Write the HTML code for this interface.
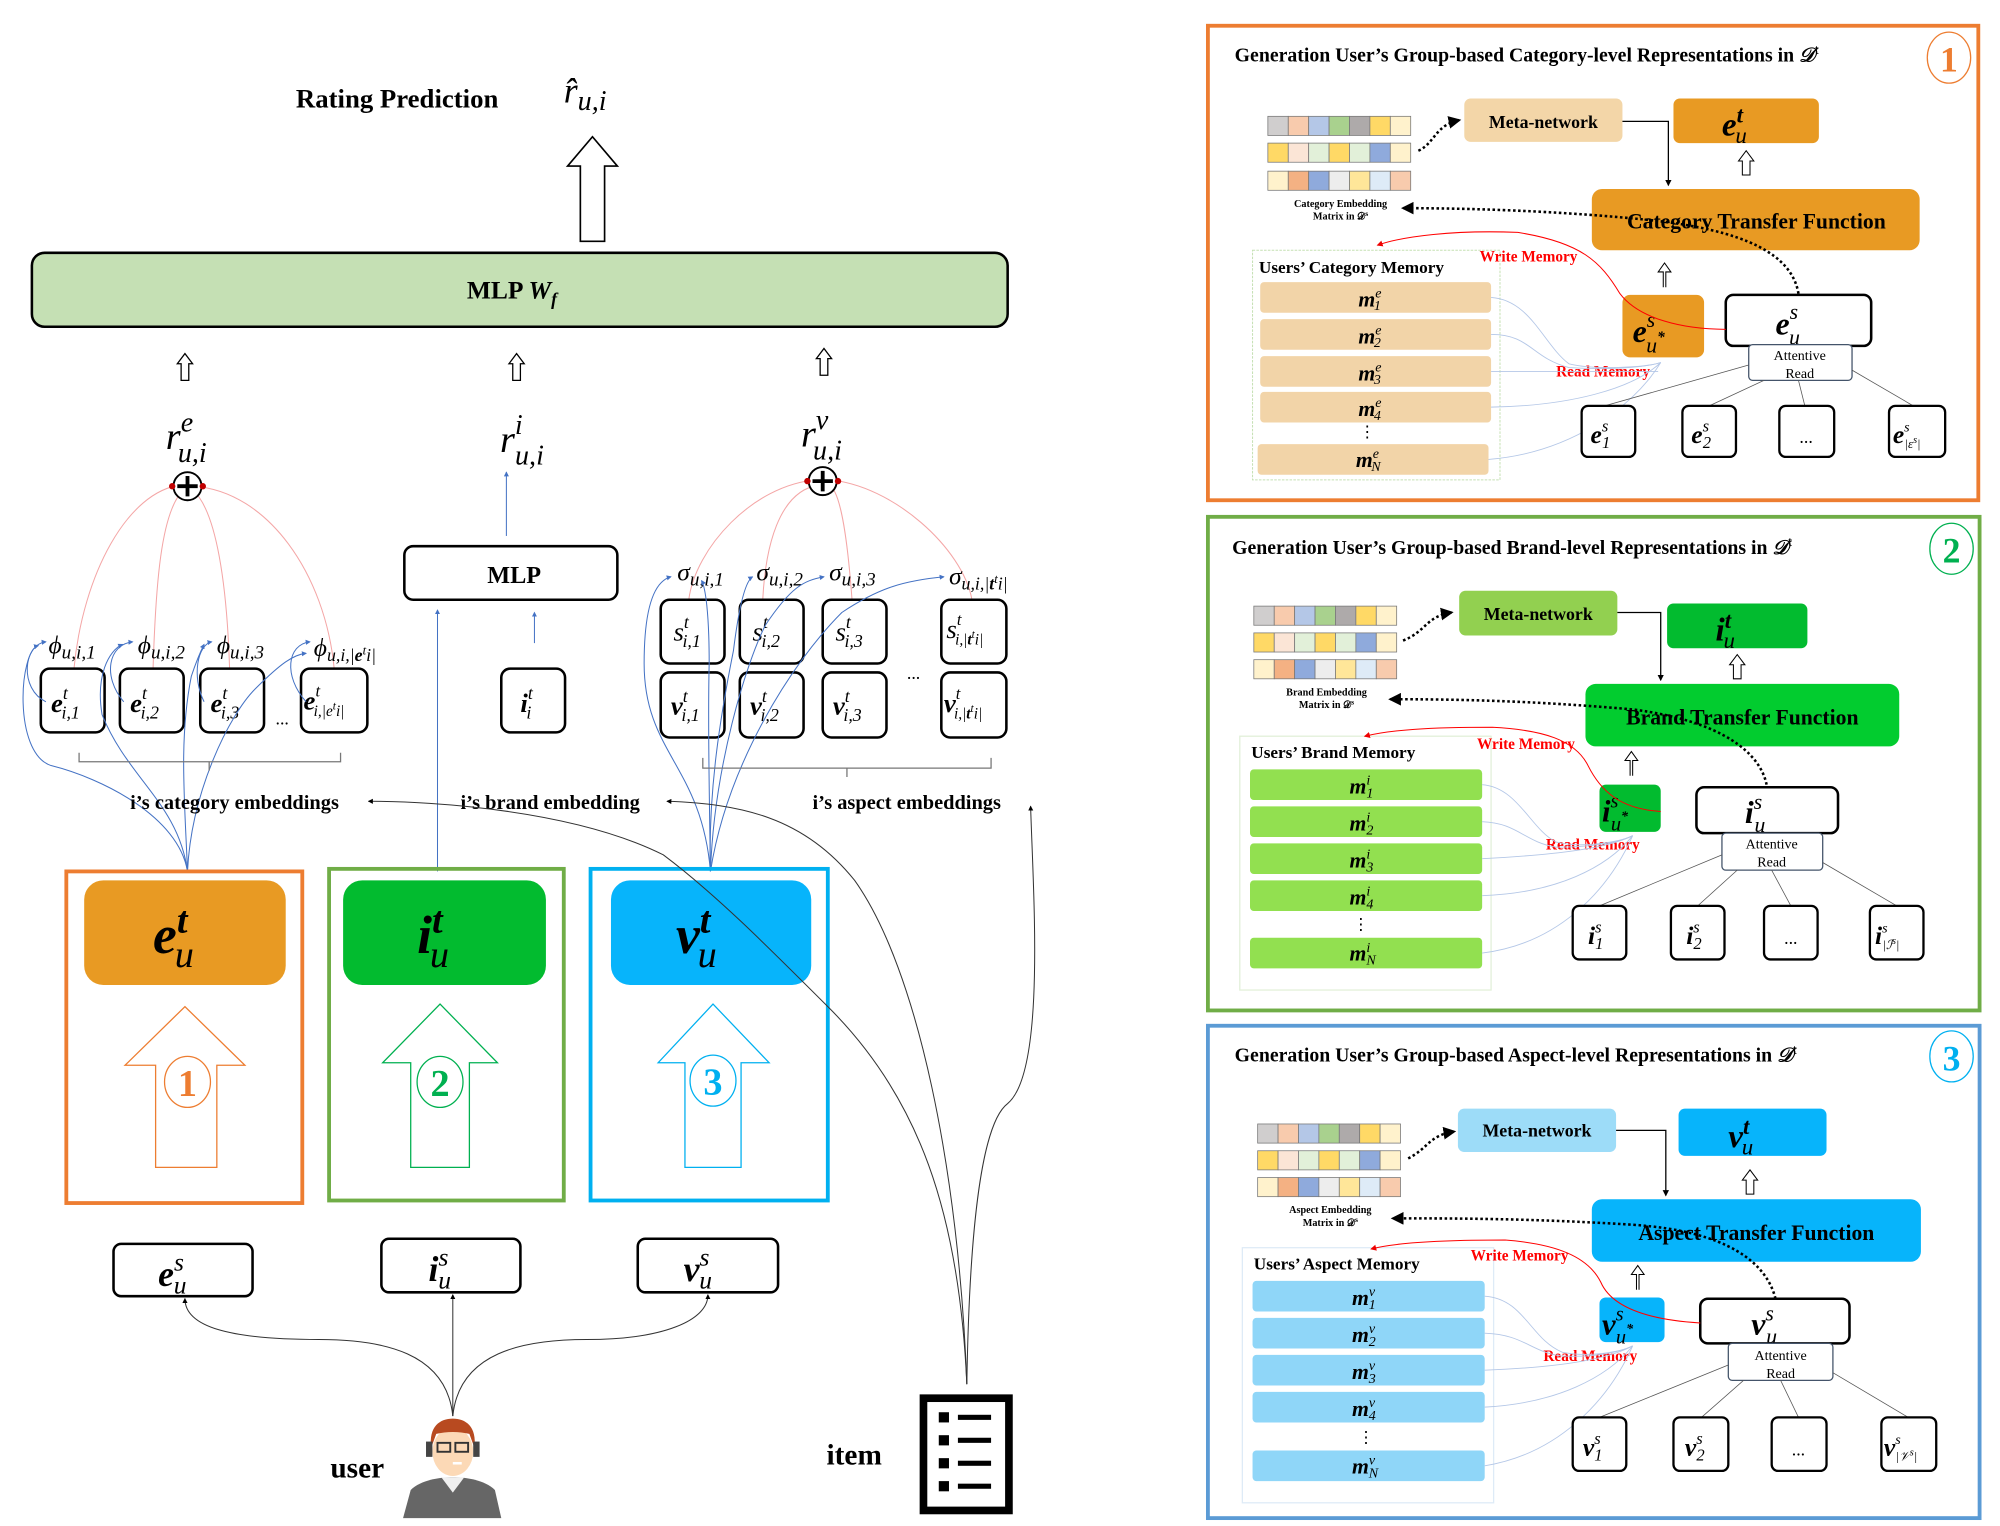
<!DOCTYPE html>
<html><head><meta charset="utf-8"><style>
html,body{margin:0;padding:0;background:#fff}
svg{display:block}
text{font-family:"Liberation Serif",serif}
.b{font-weight:bold}
.m{font-style:italic;font-weight:bold}
.mi{font-style:italic}
</style></head><body>
<svg width="2000" height="1526" viewBox="0 0 1568 1196" xmlns="http://www.w3.org/2000/svg">
<defs>
<marker id="ab" viewBox="0 0 6 6" refX="5" refY="3" markerWidth="5" markerHeight="5" orient="auto"><path d="M0,0L6,3L0,6z" fill="#4472c4"/></marker>
<marker id="ak" viewBox="0 0 6 6" refX="5" refY="3" markerWidth="5" markerHeight="5" orient="auto"><path d="M0,0L6,3L0,6z" fill="#000"/></marker>
<marker id="ar" viewBox="0 0 6 6" refX="5" refY="3" markerWidth="6" markerHeight="6" orient="auto"><path d="M0,0L6,3L0,6z" fill="#e00"/></marker>
</defs>

<!-- top -->
<text x="232" y="84" class="b" font-size="21">Rating Prediction</text>
<text x="442" y="80" class="mi" font-size="28">r̂<tspan font-size="22" dy="6">u,i</tspan></text>
<path d="M455,189V130H445L464.5,107L484,130H474V189Z" fill="#fff" stroke="#000" stroke-width="1.3"/>
<rect x="25" y="198" width="765" height="58" rx="10" fill="#c5e0b4" stroke="#000" stroke-width="2"/>
<text x="366" y="234" class="b" font-size="20">MLP <tspan class="m">W<tspan font-size="14" dy="5">f</tspan></tspan></text>

<g fill="#fff" stroke="#000" stroke-width="1">
<path d="M142,298V285H139L145,277L151,285H148V298Z"/>
<path d="M402,298V285H399L405,277L411,285H408V298Z"/>
<path d="M643,294V281H640L646,273L652,281H649V294Z"/>
</g>

<text x="130" y="352" class="mi" font-size="30">r<tspan font-size="22" dy="-14">e</tspan><tspan font-size="22" dx="-12" dy="24">u,i</tspan></text>
<text x="392" y="354" class="mi" font-size="30">r<tspan font-size="22" dy="-14">i</tspan><tspan font-size="22" dx="-6" dy="24">u,i</tspan></text>
<text x="628" y="350" class="mi" font-size="30">r<tspan font-size="22" dy="-14">v</tspan><tspan font-size="22" dx="-12" dy="24">u,i</tspan></text>

<g stroke="#f4a6a6" stroke-width="0.8" fill="none">
<path d="M58,524C65,450 100,385 142,380"/>
<path d="M120,524C122,460 126,400 144,384"/>
<path d="M180,524C178,460 170,400 151,384"/>
<path d="M262,524C255,450 210,385 152,381"/>
<path d="M540,470C545,430 590,380 640,376"/>
<path d="M598,470C600,430 610,385 642,380"/>
<path d="M668,470C665,430 660,385 650,380"/>
<path d="M762,470C755,430 700,380 650,376"/>
</g>
<g fill="#fff" stroke="#000" stroke-width="1.5">
<circle cx="147" cy="381" r="11"/><circle cx="645" cy="377" r="11"/></g>
<g stroke="#000" stroke-width="3"><path d="M139,381H155M147,373V389M637,377H653M645,369V385"/></g>
<g fill="#c00000"><circle cx="135" cy="381" r="2.5"/><circle cx="159" cy="381" r="2.5"/><circle cx="633" cy="377" r="2.5"/><circle cx="657" cy="377" r="2.5"/></g>

<!-- left item boxes -->
<g fill="#fff" stroke="#000" stroke-width="2">
<rect x="32" y="524" width="50" height="50" rx="7"/><rect x="94" y="524" width="50" height="50" rx="7"/>
<rect x="157" y="524" width="50" height="50" rx="7"/><rect x="236" y="524" width="52" height="50" rx="7"/>
<rect x="393" y="524" width="50" height="50" rx="7"/>
<rect x="518" y="470" width="50" height="50" rx="7"/><rect x="580" y="470" width="50" height="50" rx="7"/>
<rect x="645" y="470" width="50" height="50" rx="7"/><rect x="738" y="470" width="51" height="50" rx="7"/>
<rect x="518" y="527" width="50" height="51" rx="7"/><rect x="580" y="527" width="50" height="51" rx="7"/>
<rect x="645" y="527" width="50" height="51" rx="7"/><rect x="738" y="527" width="51" height="51" rx="7"/>
<rect x="317" y="428" width="167" height="42" rx="7"/>
</g>
<text x="382" y="457" class="b" font-size="19">MLP</text>
<g font-size="21">
<text x="40" y="558" class="m">e<tspan font-size="14" class="mi" font-weight="normal" dy="-10">t</tspan><tspan font-size="14" class="mi" font-weight="normal" dx="-5" dy="15">i,1</tspan></text>
<text x="102" y="558" class="m">e<tspan font-size="14" class="mi" font-weight="normal" dy="-10">t</tspan><tspan font-size="14" class="mi" font-weight="normal" dx="-5" dy="15">i,2</tspan></text>
<text x="165" y="558" class="m">e<tspan font-size="14" class="mi" font-weight="normal" dy="-10">t</tspan><tspan font-size="14" class="mi" font-weight="normal" dx="-5" dy="15">i,3</tspan></text>
<text x="238" y="556" class="m">e<tspan font-size="13" class="mi" font-weight="normal" dy="-10">t</tspan><tspan font-size="12" class="mi" font-weight="normal" dx="-5" dy="15">i,|e<tspan font-size="9" dy="-5">t</tspan><tspan dy="5">i</tspan>|</tspan></text>
<text x="408" y="558" class="m">i<tspan font-size="14" class="mi" font-weight="normal" dy="-10">t</tspan><tspan font-size="14" class="mi" font-weight="normal" dx="-5" dy="15">i</tspan></text>
<text x="528" y="502" class="mi">s<tspan font-size="14" dy="-10">t</tspan><tspan font-size="14" dx="-5" dy="15">i,1</tspan></text>
<text x="590" y="502" class="mi">s<tspan font-size="14" dy="-10">t</tspan><tspan font-size="14" dx="-5" dy="15">i,2</tspan></text>
<text x="655" y="502" class="mi">s<tspan font-size="14" dy="-10">t</tspan><tspan font-size="14" dx="-5" dy="15">i,3</tspan></text>
<text x="742" y="500" class="mi">s<tspan font-size="13" dy="-10">t</tspan><tspan font-size="12" dx="-5" dy="15">i,|<tspan font-weight="bold">t</tspan><tspan font-size="9" dy="-5">t</tspan><tspan dy="5">i</tspan>|</tspan></text>
<text x="526" y="560" class="m">v<tspan font-size="14" class="mi" font-weight="normal" dy="-10">t</tspan><tspan font-size="14" class="mi" font-weight="normal" dx="-5" dy="15">i,1</tspan></text>
<text x="588" y="560" class="m">v<tspan font-size="14" class="mi" font-weight="normal" dy="-10">t</tspan><tspan font-size="14" class="mi" font-weight="normal" dx="-5" dy="15">i,2</tspan></text>
<text x="653" y="560" class="m">v<tspan font-size="14" class="mi" font-weight="normal" dy="-10">t</tspan><tspan font-size="14" class="mi" font-weight="normal" dx="-5" dy="15">i,3</tspan></text>
<text x="740" y="558" class="m">v<tspan font-size="13" class="mi" font-weight="normal" dy="-10">t</tspan><tspan font-size="12" class="mi" font-weight="normal" dx="-5" dy="15">i,|<tspan font-weight="bold">t</tspan><tspan font-size="9" dy="-5">t</tspan><tspan dy="5">i</tspan>|</tspan></text>
</g>
<text x="216" y="568" font-size="14">...</text>
<text x="711" y="532" font-size="14">...</text>
<g class="mi" font-size="20">
<text x="38" y="512">ϕ<tspan font-size="15" dy="4">u,i,1</tspan></text>
<text x="108" y="512">ϕ<tspan font-size="15" dy="4">u,i,2</tspan></text>
<text x="170" y="512">ϕ<tspan font-size="15" dy="4">u,i,3</tspan></text>
<text x="246" y="514">ϕ<tspan font-size="14" dy="4">u,i,|<tspan font-weight="bold">e</tspan><tspan font-size="10" dy="-5">t</tspan><tspan dy="5">i</tspan>|</tspan></text>
<text x="531" y="455">σ<tspan font-size="15" dy="4">u,i,1</tspan></text>
<text x="593" y="455">σ<tspan font-size="15" dy="4">u,i,2</tspan></text>
<text x="650" y="455">σ<tspan font-size="15" dy="4">u,i,3</tspan></text>
<text x="744" y="458">σ<tspan font-size="14" dy="4">u,i,|<tspan font-weight="bold">t</tspan><tspan font-size="10" dy="-5">t</tspan><tspan dy="5">i</tspan>|</tspan></text>
</g>

<!-- blue arrows -->
<g stroke="#4472c4" stroke-width="0.8" fill="none" marker-end="url(#ab)">
<path d="M397,420V370"/>
<path d="M419,504V480"/>
<path d="M343,683V478"/>
<path d="M36,550C15,540 18,505 36,503"/>
<path d="M97,550C80,530 85,505 104,503"/>
<path d="M160,550C150,530 155,505 166,503"/>
<path d="M240,550C222,530 225,505 243,503"/>
<path d="M147,683C140,640 80,610 40,600C10,590 15,510 30,506"/>
<path d="M147,683C140,630 100,610 80,560C75,530 85,510 96,505"/>
<path d="M147,683C145,630 140,580 150,530C155,515 160,505 160,505"/>
<path d="M147,683C150,620 180,560 200,540C220,520 230,513 240,512"/>
<path d="M557,683C550,600 505,590 505,520C505,470 515,455 526,452"/>
<path d="M557,683C555,620 565,560 575,510C580,470 585,455 590,452"/>
<path d="M557,683C560,600 585,520 600,490C620,460 630,455 646,452"/>
<path d="M557,683C570,600 620,520 660,480C690,460 710,455 740,452"/>
<path d="M557,683C556,620 555,560 556,520C556,480 553,460 550,455"/>
</g>

<!-- braces -->
<g stroke="#777" stroke-width="1" fill="none">
<path d="M62,590V597H267V590M164,597V604"/>
<path d="M551,594V602H777V594M664,602V609"/>
</g>
<g class="b" font-size="16">
<text x="102" y="634">i’s category embeddings</text>
<text x="361" y="634">i’s brand embedding</text>
<text x="637" y="634">i’s aspect embeddings</text>
</g>

<!-- frames -->
<rect x="52" y="683" width="185" height="260" fill="none" stroke="#ed7d31" stroke-width="3"/>
<rect x="258" y="681" width="184" height="260" fill="none" stroke="#70ad47" stroke-width="3"/>
<rect x="463" y="681" width="186" height="260" fill="none" stroke="#00b0f0" stroke-width="3"/>
<rect x="66" y="690" width="158" height="82" rx="15" fill="#e89a23"/>
<rect x="269" y="690" width="159" height="82" rx="15" fill="#02bb2f"/>
<rect x="479" y="690" width="157" height="82" rx="15" fill="#07b4fb"/>
<text x="120" y="747" class="m" font-size="42">e<tspan font-size="30" dy="-16">t</tspan><tspan font-size="30" class="mi" font-weight="normal" dx="-10" dy="27">u</tspan></text>
<text x="327" y="747" class="m" font-size="42">i<tspan font-size="30" dy="-16">t</tspan><tspan font-size="30" class="mi" font-weight="normal" dx="-10" dy="27">u</tspan></text>
<text x="530" y="747" class="m" font-size="42">v<tspan font-size="30" dy="-16">t</tspan><tspan font-size="30" class="mi" font-weight="normal" dx="-10" dy="27">u</tspan></text>
<path d="M122,915V835H98L145,789L192,835H170V915Z" fill="#fff" stroke="#ed7d31" stroke-width="1"/>
<path d="M322,915V833H300L345,787L390,833H368V915Z" fill="#fff" stroke="#00b050" stroke-width="1"/>
<path d="M537,915V833H516L559,787L603,833H581V915Z" fill="#fff" stroke="#00b0f0" stroke-width="1"/>
<ellipse cx="147" cy="848" rx="18" ry="20" fill="#fff" stroke="#ed7d31"/>
<ellipse cx="345" cy="848" rx="18" ry="20" fill="#fff" stroke="#00b050"/>
<ellipse cx="559" cy="847" rx="18" ry="20" fill="#fff" stroke="#00b0f0"/>
<text x="147" y="859" text-anchor="middle" class="b" font-size="30" fill="#ed7d31">1</text>
<text x="345" y="859" text-anchor="middle" class="b" font-size="30" fill="#00b050">2</text>
<text x="559" y="858" text-anchor="middle" class="b" font-size="30" fill="#00b0f0">3</text>

<g fill="#fff" stroke="#000" stroke-width="2">
<rect x="89" y="975" width="109" height="41" rx="6"/>
<rect x="299" y="971" width="109" height="42" rx="6"/>
<rect x="500" y="971" width="110" height="42" rx="6"/>
</g>
<text x="124" y="1008" class="m" font-size="28">e<tspan font-size="20" class="mi" font-weight="normal" dy="-12">s</tspan><tspan font-size="20" class="mi" font-weight="normal" dx="-8" dy="18">u</tspan></text>
<text x="336" y="1004" class="m" font-size="28">i<tspan font-size="20" class="mi" font-weight="normal" dy="-12">s</tspan><tspan font-size="20" class="mi" font-weight="normal" dx="-8" dy="18">u</tspan></text>
<text x="536" y="1004" class="m" font-size="28">v<tspan font-size="20" class="mi" font-weight="normal" dy="-12">s</tspan><tspan font-size="20" class="mi" font-weight="normal" dx="-8" dy="18">u</tspan></text>

<!-- black connectors -->
<g stroke="#333" stroke-width="0.8" fill="none">
<path d="M355,1110C350,1060 300,1050 250,1050C180,1050 145,1040 145,1018" marker-end="url(#ak)"/>
<path d="M355,1110V1015" marker-end="url(#ak)"/>
<path d="M355,1110C360,1060 410,1050 460,1050C520,1050 555,1035 555,1015" marker-end="url(#ak)"/>
<path d="M758,1085C752,950 720,860 650,790C600,740 560,700 520,670C450,635 340,628 289,628" marker-end="url(#ak)"/>
<path d="M758,1085C752,920 720,760 670,690C630,640 580,630 523,628" marker-end="url(#ak)"/>
<path d="M758,1085C760,960 770,880 790,865C820,840 810,700 808,632" marker-end="url(#ak)"/>
</g>

<!-- user icon -->
<text x="259" y="1158" class="b" font-size="23">user</text>
<path d="M316,1190L322,1168C330,1160 345,1158 355,1158C365,1158 380,1160 388,1168L393,1190Z" fill="#666"/>
<path d="M346,1158L355,1170L364,1158Z" fill="#f0f0f0"/>
<ellipse cx="355" cy="1138" rx="16" ry="19" fill="#fcd9b6"/>
<path d="M338,1135C336,1118 345,1112 355,1112C365,1112 374,1118 372,1135L368,1124C360,1122 350,1122 342,1124Z" fill="#b84a20"/>
<rect x="343" y="1131" width="10" height="7" fill="none" stroke="#333" stroke-width="1.5"/>
<rect x="357" y="1131" width="10" height="7" fill="none" stroke="#333" stroke-width="1.5"/>
<rect x="334" y="1130" width="5" height="12" fill="#444"/><rect x="371" y="1130" width="5" height="12" fill="#444"/>
<path d="M355,1147H362" stroke="#fff" stroke-width="2"/>

<!-- item icon -->
<text x="648" y="1148" class="b" font-size="23">item</text>
<rect x="724" y="1096" width="67" height="88" fill="#fff" stroke="#000" stroke-width="6"/>
<g fill="#000">
<rect x="736" y="1107" width="8" height="8"/><rect x="751" y="1109" width="26" height="4"/>
<rect x="736" y="1125" width="8" height="8"/><rect x="751" y="1127" width="26" height="4"/>
<rect x="736" y="1143" width="8" height="8"/><rect x="751" y="1145" width="26" height="4"/>
<rect x="736" y="1161" width="8" height="8"/><rect x="751" y="1163" width="26" height="4"/>
</g>

<!-- ========== Panels ========== -->
<rect x="947" y="20" width="604" height="372" fill="none" stroke="#ed7d31" stroke-width="3"/>
<rect x="947" y="405" width="605" height="387" fill="none" stroke="#70ad47" stroke-width="3"/>
<rect x="947" y="804" width="605" height="386" fill="none" stroke="#5b9bd5" stroke-width="3"/>

<!-- Panel 1 -->
<g>
<text x="968" y="48" class="b" font-size="15.5">Generation User’s Group-based Category-level Representations in <tspan class="mi">𝒟</tspan><tspan font-size="11" font-weight="normal" dy="-6">t</tspan></text>
<ellipse cx="1528" cy="45" rx="17" ry="20" fill="#fff" stroke="#ed7d31"/>
<text x="1528" y="56" text-anchor="middle" class="b" font-size="28" fill="#ed7d31">1</text>
<g stroke="#777" stroke-width="0.6">
<rect x="994" y="91" width="16" height="15" fill="#d0cece"/><rect x="1010" y="91" width="16" height="15" fill="#f8cbad"/><rect x="1026" y="91" width="16" height="15" fill="#b4c7e7"/><rect x="1042" y="91" width="16" height="15" fill="#a9d18e"/><rect x="1058" y="91" width="16" height="15" fill="#aeaaaa"/><rect x="1074" y="91" width="16" height="15" fill="#ffd966"/><rect x="1090" y="91" width="16" height="15" fill="#fff2cc"/>
<rect x="994" y="112" width="16" height="15" fill="#ffd966"/><rect x="1010" y="112" width="16" height="15" fill="#fbe5d6"/><rect x="1026" y="112" width="16" height="15" fill="#e2f0d9"/><rect x="1042" y="112" width="16" height="15" fill="#ffd966"/><rect x="1058" y="112" width="16" height="15" fill="#e2f0d9"/><rect x="1074" y="112" width="16" height="15" fill="#8faadc"/><rect x="1090" y="112" width="16" height="15" fill="#fff2cc"/>
<rect x="994" y="134" width="16" height="15" fill="#fff2cc"/><rect x="1010" y="134" width="16" height="15" fill="#f4b183"/><rect x="1026" y="134" width="16" height="15" fill="#8faadc"/><rect x="1042" y="134" width="16" height="15" fill="#ededed"/><rect x="1058" y="134" width="16" height="15" fill="#ffe699"/><rect x="1074" y="134" width="16" height="15" fill="#deebf7"/><rect x="1090" y="134" width="16" height="15" fill="#f8cbad"/>
</g>
<text x="1051" y="162" text-anchor="middle" class="b" font-size="8">Category Embedding</text>
<text x="1051" y="172" text-anchor="middle" class="b" font-size="8">Matrix in 𝒟<tspan font-size="6" dy="-3">s</tspan></text>
<path d="M1112,118C1125,112 1125,98 1144,94" fill="none" stroke="#000" stroke-width="2" stroke-dasharray="2,2" marker-end="url(#ak)"/>
<rect x="1148" y="77" width="124" height="34" rx="5" fill="#f3d6a8"/>
<text x="1210" y="100" text-anchor="middle" class="b" font-size="14">Meta-network</text>
<rect x="1312" y="77" width="114" height="35" rx="5" fill="#e89a23"/>
<text x="1350" y="106" class="m" font-size="26">e<tspan font-size="18" dy="-10">t</tspan><tspan font-size="18" class="mi" font-weight="normal" dx="-6" dy="16">u</tspan></text>
<path d="M1272,95H1308V145" fill="none" stroke="#000" stroke-width="1" marker-end="url(#ak)"/>
<path d="M1366,137V126H1363L1369,118L1375,126H1372V137Z" fill="#fff" stroke="#000" stroke-width="0.8"/>
<rect x="1248" y="148" width="257" height="48" rx="8" fill="#e89a23"/>
<text x="1377" y="179" text-anchor="middle" class="b" font-size="17">Category Transfer Function</text>
<path d="M1410,230C1405,200 1370,180 1290,172C1220,165 1150,163 1100,163" fill="none" stroke="#000" stroke-width="2" stroke-dasharray="2,2" marker-end="url(#ak)"/>
<rect x="982" y="196" width="194" height="180" fill="none" stroke="#c5e0b4" stroke-width="0.8" stroke-dasharray="2,1"/>
<text x="987" y="214" class="b" font-size="13.5">Users’ Category Memory</text>
<g fill="#f2d4a8">
<rect x="988" y="221" width="181" height="24" rx="3"/><rect x="988" y="250" width="181" height="24" rx="3"/>
<rect x="988" y="279" width="181" height="24" rx="3"/><rect x="988" y="307" width="181" height="24" rx="3"/>
<rect x="986" y="348" width="181" height="24" rx="3"/>
</g>
<g font-size="17" class="m">
<text x="1065" y="240">m<tspan font-size="11" class="mi" font-weight="normal" dy="-7">e</tspan><tspan font-size="11" class="mi" font-weight="normal" dx="-6" dy="10">1</tspan></text>
<text x="1065" y="269">m<tspan font-size="11" class="mi" font-weight="normal" dy="-7">e</tspan><tspan font-size="11" class="mi" font-weight="normal" dx="-6" dy="10">2</tspan></text>
<text x="1065" y="298">m<tspan font-size="11" class="mi" font-weight="normal" dy="-7">e</tspan><tspan font-size="11" class="mi" font-weight="normal" dx="-6" dy="10">3</tspan></text>
<text x="1065" y="326">m<tspan font-size="11" class="mi" font-weight="normal" dy="-7">e</tspan><tspan font-size="11" class="mi" font-weight="normal" dx="-6" dy="10">4</tspan></text>
<text x="1063" y="366">m<tspan font-size="11" class="mi" font-weight="normal" dy="-7">e</tspan><tspan font-size="11" class="mi" font-weight="normal" dx="-6" dy="10">N</tspan></text>
</g>
<text x="1072" y="343" font-size="13" text-anchor="middle">⋮</text>
<path d="M1304,225V213H1300L1305,206L1310,213H1306V225" fill="#fff" stroke="#000" stroke-width="0.8"/>
<rect x="1272" y="231" width="64" height="49" rx="6" fill="#e89a23"/>
<text x="1280" y="268" class="m" font-size="25">e<tspan font-size="17" class="mi" font-weight="normal" dy="-12">s</tspan><tspan font-size="17" class="mi" font-weight="normal" dx="-7" dy="20">u</tspan><tspan font-size="12" dy="-8">*</tspan></text>
<rect x="1353" y="231" width="114" height="40" rx="6" fill="#fff" stroke="#000" stroke-width="2"/>
<text x="1392" y="262" class="m" font-size="25">e<tspan font-size="17" class="mi" font-weight="normal" dy="-12">s</tspan><tspan font-size="17" class="mi" font-weight="normal" dx="-7" dy="20">u</tspan></text>
<rect x="1371" y="270" width="81" height="28" rx="3" fill="#fff" stroke="#44546a" stroke-width="1"/>
<text x="1411" y="282" text-anchor="middle" font-size="11">Attentive</text>
<text x="1411" y="296" text-anchor="middle" font-size="11">Read</text>
<path d="M1353,258C1320,258 1285,250 1270,230C1255,205 1240,190 1190,182C1140,180 1100,185 1080,192" fill="none" stroke="#f00" stroke-width="0.8" marker-end="url(#ar)"/>
<text x="1160" y="205" class="b" font-size="12" fill="#f00">Write Memory</text>
<text x="1220" y="295" class="b" font-size="12" fill="#f00">Read Memory</text>
<g stroke="#b4c7e7" stroke-width="0.7" fill="none">
<path d="M1169,233C1200,235 1210,270 1230,285C1250,290 1290,288 1302,284"/>
<path d="M1169,262C1200,262 1200,280 1230,288C1260,290 1290,288 1302,284"/>
<path d="M1169,291H1300"/>
<path d="M1169,319C1230,318 1280,305 1302,284"/>
<path d="M1167,360C1230,355 1280,320 1302,284"/>
</g>
<g stroke="#555" stroke-width="0.6"><path d="M1371,286L1258,318M1383,298L1340,318M1410,298L1415,318M1452,290L1500,318"/></g>
<g fill="#fff" stroke="#000" stroke-width="1.8">
<rect x="1240" y="318" width="42" height="40" rx="5"/><rect x="1319" y="318" width="42" height="40" rx="5"/>
<rect x="1395" y="318" width="43" height="40" rx="5"/><rect x="1481" y="318" width="44" height="40" rx="5"/>
</g>
<g class="m" font-size="20">
<text x="1247" y="347">e<tspan font-size="13" class="mi" font-weight="normal" dy="-9">s</tspan><tspan font-size="13" class="mi" font-weight="normal" dx="-5" dy="13">1</tspan></text>
<text x="1326" y="347">e<tspan font-size="13" class="mi" font-weight="normal" dy="-9">s</tspan><tspan font-size="13" class="mi" font-weight="normal" dx="-5" dy="13">2</tspan></text>
<text x="1484" y="347">e<tspan font-size="11" class="mi" font-weight="normal" dy="-9">s</tspan><tspan font-size="10" class="mi" font-weight="normal" dx="-4" dy="13">|ε<tspan font-size="8" dy="-4">s</tspan><tspan dy="4">|</tspan></tspan></text>
</g>
<text x="1416" y="347" text-anchor="middle" font-size="14">...</text>
</g>

<!-- Panel 2 -->
<g>
<text x="966" y="434" class="b" font-size="15.5">Generation User’s Group-based Brand-level Representations in <tspan class="mi">𝒟</tspan><tspan font-size="11" font-weight="normal" dy="-6">t</tspan></text>
<ellipse cx="1530" cy="430" rx="17" ry="20" fill="#fff" stroke="#00b050"/>
<text x="1530" y="441" text-anchor="middle" class="b" font-size="28" fill="#00b050">2</text>
<g stroke="#777" stroke-width="0.6">
<rect x="983" y="475" width="16" height="15" fill="#d0cece"/><rect x="999" y="475" width="16" height="15" fill="#f8cbad"/><rect x="1015" y="475" width="16" height="15" fill="#b4c7e7"/><rect x="1031" y="475" width="16" height="15" fill="#a9d18e"/><rect x="1047" y="475" width="16" height="15" fill="#aeaaaa"/><rect x="1063" y="475" width="16" height="15" fill="#ffd966"/><rect x="1079" y="475" width="16" height="15" fill="#fff2cc"/>
<rect x="983" y="496" width="16" height="15" fill="#ffd966"/><rect x="999" y="496" width="16" height="15" fill="#fbe5d6"/><rect x="1015" y="496" width="16" height="15" fill="#e2f0d9"/><rect x="1031" y="496" width="16" height="15" fill="#ffd966"/><rect x="1047" y="496" width="16" height="15" fill="#e2f0d9"/><rect x="1063" y="496" width="16" height="15" fill="#8faadc"/><rect x="1079" y="496" width="16" height="15" fill="#fff2cc"/>
<rect x="983" y="517" width="16" height="15" fill="#fff2cc"/><rect x="999" y="517" width="16" height="15" fill="#f4b183"/><rect x="1015" y="517" width="16" height="15" fill="#8faadc"/><rect x="1031" y="517" width="16" height="15" fill="#ededed"/><rect x="1047" y="517" width="16" height="15" fill="#ffe699"/><rect x="1063" y="517" width="16" height="15" fill="#deebf7"/><rect x="1079" y="517" width="16" height="15" fill="#f8cbad"/>
</g>
<text x="1040" y="545" text-anchor="middle" class="b" font-size="8">Brand Embedding</text>
<text x="1040" y="555" text-anchor="middle" class="b" font-size="8">Matrix in 𝒟<tspan font-size="6" dy="-3">s</tspan></text>
<path d="M1100,502C1118,495 1118,483 1138,480" fill="none" stroke="#000" stroke-width="2" stroke-dasharray="2,2" marker-end="url(#ak)"/>
<rect x="1144" y="463" width="124" height="35" rx="5" fill="#92d050"/>
<text x="1206" y="486" text-anchor="middle" class="b" font-size="14">Meta-network</text>
<rect x="1307" y="473" width="110" height="35" rx="5" fill="#02bb2f"/>
<text x="1345" y="502" class="m" font-size="26">i<tspan font-size="18" dy="-10">t</tspan><tspan font-size="18" class="mi" font-weight="normal" dx="-6" dy="16">u</tspan></text>
<path d="M1268,480H1302V533" fill="none" stroke="#000" stroke-width="1" marker-end="url(#ak)"/>
<path d="M1359,532V521H1356L1362,513L1368,521H1365V532Z" fill="#fff" stroke="#000" stroke-width="0.8"/>
<rect x="1243" y="536" width="246" height="49" rx="8" fill="#02cc2f"/>
<text x="1366" y="568" text-anchor="middle" class="b" font-size="17">Brand Transfer Function</text>
<path d="M1385,615C1380,590 1350,565 1280,556C1200,549 1140,548 1090,548" fill="none" stroke="#000" stroke-width="2" stroke-dasharray="2,2" marker-end="url(#ak)"/>
<rect x="972" y="577" width="197" height="199" fill="none" stroke="#e2f0d9" stroke-width="1"/>
<text x="981" y="594" class="b" font-size="13.5">Users’ Brand Memory</text>
<g fill="#92e050">
<rect x="980" y="603" width="182" height="24" rx="3"/><rect x="980" y="632" width="182" height="24" rx="3"/>
<rect x="980" y="661" width="182" height="24" rx="3"/><rect x="980" y="690" width="182" height="24" rx="3"/>
<rect x="980" y="735" width="182" height="24" rx="3"/>
</g>
<g font-size="17" class="m">
<text x="1058" y="622">m<tspan font-size="11" class="mi" font-weight="normal" dy="-7">i</tspan><tspan font-size="11" class="mi" font-weight="normal" dx="-3" dy="10">1</tspan></text>
<text x="1058" y="651">m<tspan font-size="11" class="mi" font-weight="normal" dy="-7">i</tspan><tspan font-size="11" class="mi" font-weight="normal" dx="-3" dy="10">2</tspan></text>
<text x="1058" y="680">m<tspan font-size="11" class="mi" font-weight="normal" dy="-7">i</tspan><tspan font-size="11" class="mi" font-weight="normal" dx="-3" dy="10">3</tspan></text>
<text x="1058" y="709">m<tspan font-size="11" class="mi" font-weight="normal" dy="-7">i</tspan><tspan font-size="11" class="mi" font-weight="normal" dx="-3" dy="10">4</tspan></text>
<text x="1058" y="753">m<tspan font-size="11" class="mi" font-weight="normal" dy="-7">i</tspan><tspan font-size="11" class="mi" font-weight="normal" dx="-3" dy="10">N</tspan></text>
</g>
<text x="1067" y="729" font-size="13" text-anchor="middle">⋮</text>
<path d="M1278,608V596H1274L1279,589L1284,596H1280V608" fill="#fff" stroke="#000" stroke-width="0.8"/>
<rect x="1254" y="615" width="48" height="37" rx="5" fill="#02bb2f"/>
<text x="1256" y="644" class="m" font-size="24">i<tspan font-size="16" class="mi" font-weight="normal" dy="-11">s</tspan><tspan font-size="16" class="mi" font-weight="normal" dx="-6" dy="18">u</tspan><tspan font-size="11" dy="-8">*</tspan></text>
<rect x="1330" y="617" width="111" height="36" rx="6" fill="#fff" stroke="#000" stroke-width="2"/>
<text x="1368" y="645" class="m" font-size="25">i<tspan font-size="17" class="mi" font-weight="normal" dy="-11">s</tspan><tspan font-size="17" class="mi" font-weight="normal" dx="-6" dy="18">u</tspan></text>
<rect x="1350" y="653" width="79" height="29" rx="3" fill="#fff" stroke="#44546a" stroke-width="1"/>
<text x="1389" y="665" text-anchor="middle" font-size="11">Attentive</text>
<text x="1389" y="679" text-anchor="middle" font-size="11">Read</text>
<path d="M1302,636C1270,634 1255,620 1245,600C1235,580 1210,572 1170,570C1120,570 1090,572 1070,577" fill="none" stroke="#f00" stroke-width="0.8" marker-end="url(#ar)"/>
<text x="1158" y="587" class="b" font-size="12" fill="#f00">Write Memory</text>
<text x="1212" y="666" class="b" font-size="12" fill="#f00">Read Memory</text>
<g stroke="#b4c7e7" stroke-width="0.7" fill="none">
<path d="M1162,615C1190,617 1200,650 1220,660C1240,665 1270,660 1280,655"/>
<path d="M1162,644C1190,645 1195,660 1220,664C1250,664 1270,660 1280,655"/>
<path d="M1162,673C1220,670 1260,665 1280,655"/>
<path d="M1162,702C1220,700 1260,680 1280,655"/>
<path d="M1162,747C1220,740 1260,700 1280,655"/>
</g>
<g stroke="#555" stroke-width="0.6"><path d="M1350,670L1254,710M1362,682L1331,710M1389,682L1404,710M1429,676L1487,710"/></g>
<g fill="#fff" stroke="#000" stroke-width="1.8">
<rect x="1233" y="710" width="42" height="42" rx="5"/><rect x="1310" y="710" width="42" height="42" rx="5"/>
<rect x="1383" y="710" width="42" height="42" rx="5"/><rect x="1466" y="710" width="42" height="42" rx="5"/>
</g>
<g class="m" font-size="20">
<text x="1245" y="740">i<tspan font-size="13" class="mi" font-weight="normal" dy="-9">s</tspan><tspan font-size="13" class="mi" font-weight="normal" dx="-5" dy="13">1</tspan></text>
<text x="1322" y="740">i<tspan font-size="13" class="mi" font-weight="normal" dy="-9">s</tspan><tspan font-size="13" class="mi" font-weight="normal" dx="-5" dy="13">2</tspan></text>
<text x="1470" y="740">i<tspan font-size="11" class="mi" font-weight="normal" dy="-9">s</tspan><tspan font-size="10" class="mi" font-weight="normal" dx="-4" dy="13">|ℐ<tspan font-size="8" dy="-4">s</tspan><tspan dy="4">|</tspan></tspan></text>
</g>
<text x="1404" y="740" text-anchor="middle" font-size="14">...</text>
</g>

<!-- Panel 3 -->
<g>
<text x="968" y="832" class="b" font-size="15.5">Generation User’s Group-based Aspect-level Representations in <tspan class="mi">𝒟</tspan><tspan font-size="11" font-weight="normal" dy="-6">t</tspan></text>
<ellipse cx="1530" cy="828" rx="17" ry="20" fill="#fff" stroke="#00b0f0"/>
<text x="1530" y="839" text-anchor="middle" class="b" font-size="28" fill="#00b0f0">3</text>
<g stroke="#777" stroke-width="0.6">
<rect x="986" y="881" width="16" height="15" fill="#d0cece"/><rect x="1002" y="881" width="16" height="15" fill="#f8cbad"/><rect x="1018" y="881" width="16" height="15" fill="#b4c7e7"/><rect x="1034" y="881" width="16" height="15" fill="#a9d18e"/><rect x="1050" y="881" width="16" height="15" fill="#aeaaaa"/><rect x="1066" y="881" width="16" height="15" fill="#ffd966"/><rect x="1082" y="881" width="16" height="15" fill="#fff2cc"/>
<rect x="986" y="902" width="16" height="15" fill="#ffd966"/><rect x="1002" y="902" width="16" height="15" fill="#fbe5d6"/><rect x="1018" y="902" width="16" height="15" fill="#e2f0d9"/><rect x="1034" y="902" width="16" height="15" fill="#ffd966"/><rect x="1050" y="902" width="16" height="15" fill="#e2f0d9"/><rect x="1066" y="902" width="16" height="15" fill="#8faadc"/><rect x="1082" y="902" width="16" height="15" fill="#fff2cc"/>
<rect x="986" y="923" width="16" height="15" fill="#fff2cc"/><rect x="1002" y="923" width="16" height="15" fill="#f4b183"/><rect x="1018" y="923" width="16" height="15" fill="#8faadc"/><rect x="1034" y="923" width="16" height="15" fill="#ededed"/><rect x="1050" y="923" width="16" height="15" fill="#ffe699"/><rect x="1066" y="923" width="16" height="15" fill="#deebf7"/><rect x="1082" y="923" width="16" height="15" fill="#f8cbad"/>
</g>
<text x="1043" y="951" text-anchor="middle" class="b" font-size="8">Aspect Embedding</text>
<text x="1043" y="961" text-anchor="middle" class="b" font-size="8">Matrix in 𝒟<tspan font-size="6" dy="-3">s</tspan></text>
<path d="M1104,908C1120,900 1120,890 1140,887" fill="none" stroke="#000" stroke-width="2" stroke-dasharray="2,2" marker-end="url(#ak)"/>
<rect x="1143" y="869" width="124" height="34" rx="5" fill="#9ddcf8"/>
<text x="1205" y="891" text-anchor="middle" class="b" font-size="14">Meta-network</text>
<rect x="1316" y="869" width="116" height="37" rx="5" fill="#07b4fb"/>
<text x="1355" y="899" class="m" font-size="26">v<tspan font-size="18" dy="-10">t</tspan><tspan font-size="18" class="mi" font-weight="normal" dx="-6" dy="16">u</tspan></text>
<path d="M1267,886H1306V937" fill="none" stroke="#000" stroke-width="1" marker-end="url(#ak)"/>
<path d="M1369,936V925H1366L1372,917L1378,925H1375V936Z" fill="#fff" stroke="#000" stroke-width="0.8"/>
<rect x="1248" y="940" width="258" height="49" rx="8" fill="#07b4fb"/>
<text x="1377" y="972" text-anchor="middle" class="b" font-size="17">Aspect Transfer Function</text>
<path d="M1392,1018C1385,990 1355,965 1280,960C1200,955 1140,955 1092,955" fill="none" stroke="#000" stroke-width="2" stroke-dasharray="2,2" marker-end="url(#ak)"/>
<rect x="974" y="978" width="197" height="200" fill="none" stroke="#deebf7" stroke-width="1"/>
<text x="983" y="995" class="b" font-size="13.5">Users’ Aspect Memory</text>
<g fill="#8fd6f8">
<rect x="982" y="1004" width="182" height="24" rx="3"/><rect x="982" y="1033" width="182" height="24" rx="3"/>
<rect x="982" y="1062" width="182" height="24" rx="3"/><rect x="982" y="1091" width="182" height="24" rx="3"/>
<rect x="982" y="1137" width="182" height="24" rx="3"/>
</g>
<g font-size="17" class="m">
<text x="1060" y="1023">m<tspan font-size="11" class="mi" font-weight="normal" dy="-7">v</tspan><tspan font-size="11" class="mi" font-weight="normal" dx="-5" dy="10">1</tspan></text>
<text x="1060" y="1052">m<tspan font-size="11" class="mi" font-weight="normal" dy="-7">v</tspan><tspan font-size="11" class="mi" font-weight="normal" dx="-5" dy="10">2</tspan></text>
<text x="1060" y="1081">m<tspan font-size="11" class="mi" font-weight="normal" dy="-7">v</tspan><tspan font-size="11" class="mi" font-weight="normal" dx="-5" dy="10">3</tspan></text>
<text x="1060" y="1110">m<tspan font-size="11" class="mi" font-weight="normal" dy="-7">v</tspan><tspan font-size="11" class="mi" font-weight="normal" dx="-5" dy="10">4</tspan></text>
<text x="1060" y="1155">m<tspan font-size="11" class="mi" font-weight="normal" dy="-7">v</tspan><tspan font-size="11" class="mi" font-weight="normal" dx="-5" dy="10">N</tspan></text>
</g>
<text x="1071" y="1131" font-size="13" text-anchor="middle">⋮</text>
<path d="M1283,1011V999H1279L1284,992L1289,999H1285V1011" fill="#fff" stroke="#000" stroke-width="0.8"/>
<rect x="1254" y="1017" width="51" height="35" rx="5" fill="#07b4fb"/>
<text x="1256" y="1046" class="m" font-size="24">v<tspan font-size="16" class="mi" font-weight="normal" dy="-11">s</tspan><tspan font-size="16" class="mi" font-weight="normal" dx="-6" dy="18">u</tspan><tspan font-size="11" dy="-8">*</tspan></text>
<rect x="1333" y="1018" width="117" height="35" rx="6" fill="#fff" stroke="#000" stroke-width="2"/>
<text x="1373" y="1046" class="m" font-size="25">v<tspan font-size="17" class="mi" font-weight="normal" dy="-11">s</tspan><tspan font-size="17" class="mi" font-weight="normal" dx="-6" dy="18">u</tspan></text>
<rect x="1355" y="1053" width="82" height="29" rx="3" fill="#fff" stroke="#44546a" stroke-width="1"/>
<text x="1396" y="1066" text-anchor="middle" font-size="11">Attentive</text>
<text x="1396" y="1080" text-anchor="middle" font-size="11">Read</text>
<path d="M1333,1037C1300,1035 1265,1028 1255,1005C1245,985 1220,975 1180,972C1120,972 1090,975 1075,979" fill="none" stroke="#f00" stroke-width="0.8" marker-end="url(#ar)"/>
<text x="1153" y="988" class="b" font-size="12" fill="#f00">Write Memory</text>
<text x="1210" y="1067" class="b" font-size="12" fill="#f00">Read Memory</text>
<g stroke="#b4c7e7" stroke-width="0.7" fill="none">
<path d="M1164,1016C1195,1018 1200,1050 1225,1060C1245,1064 1270,1060 1280,1055"/>
<path d="M1164,1045C1195,1046 1200,1060 1225,1063C1250,1064 1270,1060 1280,1055"/>
<path d="M1164,1074C1220,1072 1260,1066 1280,1055"/>
<path d="M1164,1103C1220,1100 1260,1080 1280,1055"/>
<path d="M1164,1149C1220,1140 1260,1100 1280,1055"/>
</g>
<g stroke="#555" stroke-width="0.6"><path d="M1355,1070L1254,1111M1367,1082L1334,1111M1396,1082L1410,1111M1437,1076L1496,1111"/></g>
<g fill="#fff" stroke="#000" stroke-width="1.8">
<rect x="1233" y="1111" width="42" height="42" rx="5"/><rect x="1312" y="1111" width="43" height="42" rx="5"/>
<rect x="1389" y="1111" width="43" height="42" rx="5"/><rect x="1475" y="1111" width="43" height="42" rx="5"/>
</g>
<g class="m" font-size="20">
<text x="1241" y="1141">v<tspan font-size="13" class="mi" font-weight="normal" dy="-9">s</tspan><tspan font-size="13" class="mi" font-weight="normal" dx="-5" dy="13">1</tspan></text>
<text x="1321" y="1141">v<tspan font-size="13" class="mi" font-weight="normal" dy="-9">s</tspan><tspan font-size="13" class="mi" font-weight="normal" dx="-5" dy="13">2</tspan></text>
<text x="1477" y="1141">v<tspan font-size="11" class="mi" font-weight="normal" dy="-9">s</tspan><tspan font-size="10" class="mi" font-weight="normal" dx="-4" dy="13">|𝒱<tspan font-size="8" dy="-4">s</tspan><tspan dy="4">|</tspan></tspan></text>
</g>
<text x="1410" y="1141" text-anchor="middle" font-size="14">...</text>
</g>
</svg>
</body></html>
